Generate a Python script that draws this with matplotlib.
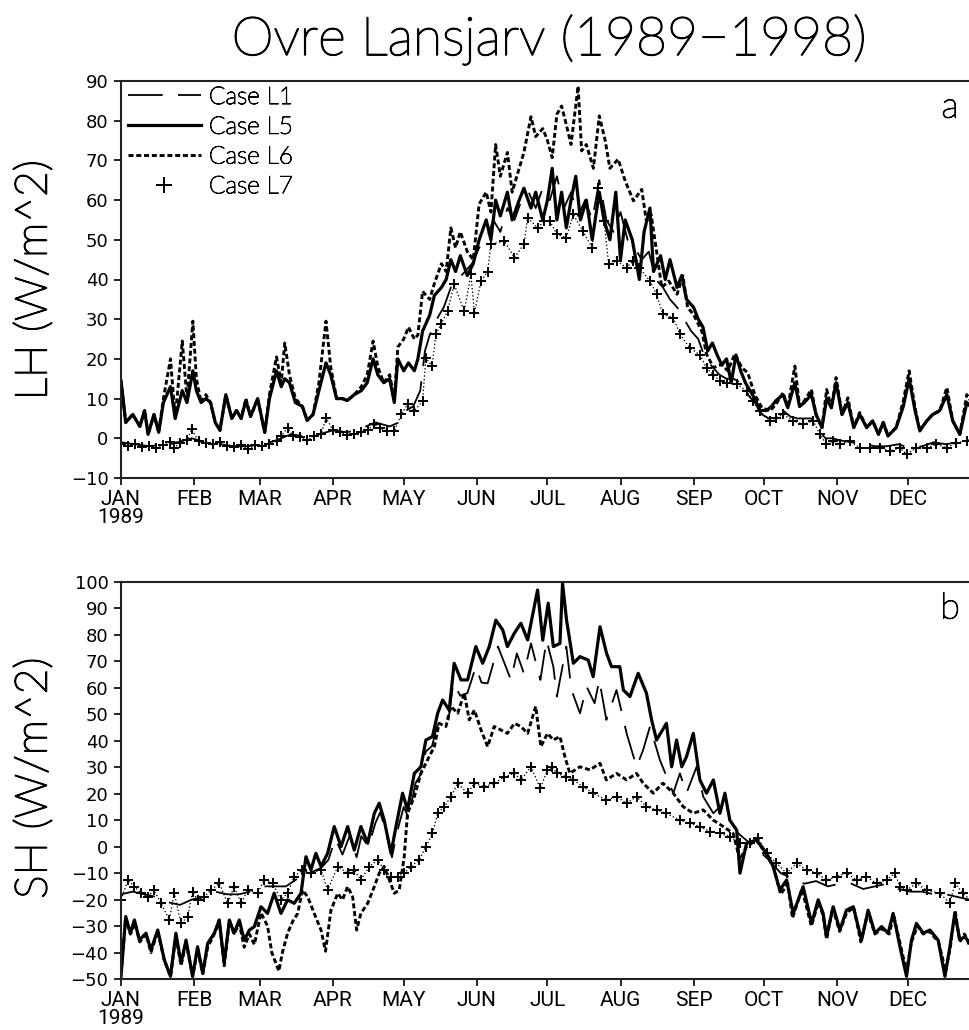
import matplotlib
matplotlib.use("Agg")
import matplotlib.pyplot as plt
import matplotlib.patheffects as pe
from matplotlib.lines import Line2D
import numpy as np

plt.rcParams["lines.scale_dashes"] = False

# ---------------------------------------------------------------------------
# Daily-mean surface fluxes, Ovre Lansjarv, 1989-1998 climatology.
# Each series is a list of (day of year, flux in W/m^2) readings.
# ---------------------------------------------------------------------------
months = ["JAN\n1989", "FEB", "MAR", "APR", "MAY", "JUN",
          "JUL", "AUG", "SEP", "OCT", "NOV", "DEC"]
month_start = [0, 31, 59, 90, 120, 151, 181, 212, 243, 273, 304, 334]
case_names = ["Case L1", "Case L5", "Case L6", "Case L7"]

# ---- latent heat (panel a) ----
lh_l1 = [(0, -1), (6, -1.5), (12, -2), (18, -1.5), (24, -1), (30, 0), (36, -1),
         (42, -1.5), (48, -2), (54, -2), (60, -1.5), (66, -0.5), (72, 1), (78, 0.5),
         (84, 1), (90, 2), (96, 1.5), (102, 2.5), (108, 4), (114, 3), (118, 4),
         (121, 7), (124, 8), (127, 12), (129, 22), (131, 26), (134, 30), (137, 33),
         (140, 38), (143, 40), (146, 42), (149, 44), (152, 48), (155, 50), (158, 55),
         (161, 52), (164, 58), (167, 55), (170, 60), (173, 62), (176, 58), (179, 63),
         (182, 60), (185, 66), (188, 58), (191, 62), (194, 56), (197, 60), (200, 55),
         (203, 65), (206, 55), (209, 52), (212, 57), (215, 50), (218, 48), (221, 45),
         (224, 47), (227, 40), (230, 38), (233, 35), (236, 33), (239, 30), (242, 27),
         (245, 25), (248, 20), (251, 18), (254, 16), (257, 15), (260, 15), (263, 14),
         (266, 11), (269, 9), (272, 6), (275, 5), (278, 6), (281, 7), (284, 5.5),
         (287, 5), (290, 5), (293, 5), (296, 2), (299, 0), (302, 0), (305, -0.5),
         (310, -1), (315, -1.5), (320, -2), (325, -2), (330, -1.5), (335, -2.5),
         (340, -2), (345, -1), (350, -1.5), (355, -1), (360, -0.5), (365, -0.5)]

lh_l5 = [(0, 14.5), (2, 4), (5, 6), (8, 3), (10, 7), (11.5, 1), (14, 6), (16, 1.5),
         (18, 9), (21, 13), (23, 5), (26, 12), (28, 9), (30.5, 17), (32, 12), (34, 9),
         (36, 10), (38, 9), (40, 4), (42, 2), (44.5, 11), (47, 5), (49, 7), (51, 5),
         (53, 9.5), (55, 5.5), (58, 10), (61, 1.5), (63, 10), (66, 17), (68, 13),
         (69.5, 15), (71.5, 14), (74, 9), (77, 8), (79, 4.5), (81.5, 6), (84, 12),
         (87, 19), (89, 16), (91.5, 10), (94, 10), (96, 9.5), (99, 11), (102, 12),
         (104.5, 14), (107, 20), (109, 16), (111.5, 14), (114, 15), (116, 9),
         (117.5, 20), (120, 17), (122, 19), (124.5, 17), (126, 20), (128, 27),
         (131, 31), (133, 36), (136, 38), (138, 40), (140, 45), (142, 42), (144, 46),
         (147, 41), (149.5, 44), (152, 50), (155, 55), (157, 50), (159, 60), (161, 56),
         (164, 62), (166, 55), (169, 60), (171, 63), (174, 58), (176, 62), (179, 55),
         (181, 60), (183, 68), (185, 55), (187, 62), (189, 53), (191, 60), (193, 66),
         (195, 55), (197.5, 60), (200, 50), (203, 62), (205, 55), (207.5, 50),
         (210, 62), (212, 45), (214, 55), (217, 50), (220, 40), (222, 52), (224.5, 58),
         (226, 42), (229, 46), (231, 40), (233, 45), (236, 38), (238, 41), (240, 35),
         (243, 33), (245, 30), (247, 28), (249, 22), (251, 24), (253, 21), (255, 18.5),
         (257, 20), (259, 14), (261, 21), (263, 17), (265, 14), (267, 12), (269, 10),
         (271, 7), (274, 7), (276, 8), (278, 9.5), (281, 11), (283, 7.7), (286, 14),
         (288, 8), (290, 9), (293, 11), (295, 6), (297.5, 2.7), (299.5, 10),
         (301.5, 7.7), (303.5, 14), (306, 6), (308.5, 9), (311, 2.7), (313.5, 6),
         (316.5, 2.7), (319, 4.4), (321.5, 1), (323.5, 4), (325.5, 0.6), (329, 2.7),
         (332, 8), (334.5, 15), (337, 7), (339, 2), (342, 4.4), (344.5, 6), (347.5, 7),
         (350.5, 11), (353, 4.4), (356, 1), (359, 9), (365, 5)]

lh_l6 = [(0, 14.5), (2, 4), (5, 6), (8, 3), (10, 7), (11.5, 1), (14, 6), (16, 1.5),
         (18, 10), (21, 20), (23, 5), (26, 24.5), (28, 10), (30.5, 29.5), (32, 15),
         (34, 9), (36, 11), (38, 9), (40, 4), (42, 2), (44.5, 11), (47, 5), (49, 7),
         (51, 5), (53, 10), (55, 5.5), (58, 10), (61, 1.5), (63, 11), (66, 20.5),
         (68, 14), (69.5, 24), (71.5, 16), (74, 10), (77, 8), (79, 4.5), (81.5, 6),
         (84, 14), (87, 29.5), (89, 18), (91.5, 10), (94, 10), (96, 9.5), (99, 11),
         (102, 13), (104.5, 16), (107, 24.5), (109, 18), (111.5, 14), (114, 16),
         (116, 10), (117.5, 23), (120, 25), (122, 28), (124.5, 25), (126, 26),
         (128, 37), (131, 35), (133, 39), (136, 44), (138, 42), (140, 53), (142, 48),
         (144, 52), (147, 47), (149.5, 45), (152, 59), (155, 62), (157, 57), (159, 74),
         (161, 66), (164, 72), (166, 62), (169, 68), (171, 72), (174, 81), (176, 76),
         (179, 78), (181, 75), (183, 70.7), (185, 81.6), (187, 83.7), (189, 79),
         (191, 74), (194, 88.7), (195.5, 72.4), (197.5, 74), (200.5, 68), (203, 81.2),
         (205.5, 75), (207.5, 68), (211, 70.3), (214, 64.8), (217.5, 59.8), (221, 62.7),
         (223, 54.7), (225, 56.4), (227.5, 46.3), (229.5, 38), (232.5, 39.6),
         (236, 36.3), (238.5, 40.9), (240.5, 32.9), (243, 31.2), (246.5, 27),
         (248.5, 21.2), (251.5, 17.8), (255, 18.6), (257.5, 17), (260.5, 21.2),
         (263.5, 17.8), (266, 16.5), (269, 11), (272, 7.7), (275.5, 6.9), (278, 8.6),
         (281, 11.5), (283, 7.7), (286, 18.2), (288, 8.1), (290, 9.4), (293, 12.3),
         (295, 6), (297.5, 2.7), (299.5, 12.3), (301.5, 7.7), (303.5, 15.3), (306, 6),
         (308.5, 10.2), (311, 2.7), (313.5, 6.5), (316.5, 2.7), (319, 4.4),
         (321.5, 1), (323.5, 4), (325.5, 0.6), (329, 2.7), (332, 9.4), (334.5, 17),
         (337, 7.7), (339, 1.8), (342, 4.4), (344.5, 6), (347.5, 6.9), (350.5, 12.8),
         (353, 4.4), (356, 1), (359, 11), (365, 5)]

lh_l7 = [(0, -1.5), (3, -2), (6, -1.5), (9, -2.2), (12, -2), (15, -2.5), (18, -1.8),
         (21, -1), (22.6, -2.4), (25, -1.2), (28, -0.5), (30, 2.3), (33, -0.8),
         (36, -1.2), (39, -1.5), (42, -1), (45, -2), (48, -2.3), (51, -1.8),
         (54, -2.6), (57, -1.8), (60, -2), (63, -1.5), (66, -0.8), (68, 0.5),
         (70.7, 2.7), (73, 0.5), (76, 0.3), (79, -0.5), (82, 0.5), (85, 1.2), (87, 5.2),
         (90, 2), (93, 1.5), (96, 0.8), (99, 1), (102, 1.5), (105, 2.2), (107.5, 3.5),
         (110, 2.5), (113, 1.8), (116, 1.8), (119, 6), (121.6, 8.6), (124.5, 6.9),
         (128, 9.4), (129.4, 20.3), (132, 18.2), (133.7, 26.2), (135.8, 28.7),
         (138.6, 32), (141.4, 38.8), (145.7, 32), (148.5, 41.3), (150, 31.6),
         (152.8, 39.6), (155.6, 42), (157, 48.9), (162.7, 49.7), (167, 45.5),
         (171, 48.9), (172.6, 55.6), (176.8, 53), (179.6, 54.7), (182, 54.7),
         (185, 51.4), (189, 50.5), (192, 56.4), (196, 52.2), (200, 48), (202.6, 63.1),
         (205, 54.7), (207, 43.8), (210.3, 44.7), (214.6, 43), (217.4, 44.7),
         (220, 43), (224.5, 39.6), (227.3, 36.3), (230, 31.2), (234.4, 30.4),
         (237.2, 26.2), (241.4, 22.8), (245.7, 21), (248.5, 17.8), (251.4, 16),
         (254.2, 14.4), (257, 14), (261.3, 13.6), (265.5, 11.9), (268.3, 9.4),
         (271, 6.9), (275.4, 4.4), (278.2, 5.2), (281, 6), (285.3, 4.4), (289.5, 3.5),
         (293.8, 4.4), (296.6, 1), (299.4, -1.5), (302.3, -0.7), (305, -1.5),
         (309.3, -0.7), (313.6, -2.4), (318, -2.4), (322, -2.4), (326.3, -3.2),
         (330.6, -2.4), (333.4, -4), (337.6, -2.4), (342, -2.4), (346, -1.5),
         (350.4, -2.4), (354.6, -1.1), (359, -0.7)]

# ---- sensible heat (panel b) ----
sh_l1 = [(0, -18), (5, -17), (10, -18), (15, -19), (20, -21), (25, -22), (30, -20),
         (35, -19), (40, -17), (45, -18), (50, -18), (55, -17), (60, -15), (65, -15),
         (70, -15), (75, -12), (80, -10), (85, -8), (88, -5), (91, 3), (94, -3),
         (97, 4), (100, -4), (102, 4), (105, 0), (108, 9), (110, 13), (112, 7),
         (115, -4), (117, 5), (120, 15), (122, 11), (125, 24), (127, 27), (129.4, 36),
         (132, 38), (134, 45), (137, 50), (139, 48), (141, 62), (144, 57), (147, 58),
         (150.6, 68), (153, 62), (155.6, 61.7), (160, 75.6), (165.5, 63), (168, 73),
         (171, 65.5), (174, 76.8), (178, 63), (180.6, 78), (183.5, 68), (185, 56.7),
         (186.3, 63), (189, 75.6), (191.2, 59.2), (194.8, 50.4), (197.6, 60.5),
         (201, 54.2), (203, 63), (206, 47.9), (210.3, 59.2), (214.6, 42.8),
         (218.8, 30.2), (221.6, 36.5), (224.5, 45.4), (228.7, 32.8), (234.4, 20.2),
         (237.2, 27.7), (240, 20.2), (244.3, 30.2), (247.1, 18.9), (251.4, 12.6),
         (254.2, 15.1), (258.4, 10), (262, 5), (266, 2), (270, -1), (275, -5),
         (280, -10), (285, -12), (290, -14), (295, -13), (300, -15), (305, -14),
         (310, -14), (315, -16), (320, -15), (325, -14), (330, -16), (335, -17),
         (340, -17), (345, -18), (350, -18), (355, -19), (360, -20), (365, -20)]

sh_l5 = [(0, -49), (2, -26.4), (4, -32.7), (5.7, -27.7), (7.8, -35.3), (10.6, -32.7),
         (12.7, -39), (15.6, -31.5), (18.4, -42.8), (21, -49), (23.3, -32.7),
         (25.5, -44), (27.6, -35.3), (30.4, -49), (32.5, -37.8), (34.7, -47.8),
         (36.8, -36.5), (39.6, -32.7), (41.7, -27.7), (43.8, -44), (46, -27.7),
         (48, -32.7), (50.2, -27.7), (52.3, -35.3), (54.5, -31.5), (56.6, -30.2),
         (59.4, -22.7), (62.2, -25.2), (65, -17.6), (67.9, -25.2), (70.7, -20.1),
         (73.5, -21.4), (76.4, -17.6), (78.5, -3.8), (80.6, -8.8), (82.7, -2.5),
         (84.9, -7.5), (87.7, -2.5), (90.5, 7.6), (93.4, 0), (96.2, 7.6), (99, -1.3),
         (101.8, 7.6), (104.7, 1.3), (107.5, 12.6), (109.6, 16.4), (111.7, 10),
         (114.6, -2.5), (116.7, 7.6), (119.5, 20.2), (121.6, 13.9), (124.5, 27.7),
         (127.3, 30.2), (129.4, 40.3), (132.2, 41.6), (134.4, 50.4), (136.5, 55.4),
         (139.3, 51.6), (141.4, 69.3), (144.3, 63), (147.1, 63), (150.6, 75.6),
         (153.5, 69.3), (156.3, 75.6), (159.1, 85.6), (162, 81.9), (164, 75.6),
         (166.9, 80.6), (169.7, 84.4), (172.6, 78.1), (176.8, 97), (179, 78),
         (181.3, 92), (183.5, 75.6), (186.3, 76.8), (187.4, 99.5), (189.1, 85.6),
         (192, 69.3), (194.8, 71.8), (198.3, 70.5), (200.4, 64.2), (203.3, 83.1),
         (206.1, 73), (208.2, 68), (211.7, 68), (213.2, 59.2), (216, 56.7),
         (219.5, 65.5), (223, 58), (225.2, 47.9), (227.3, 40.3), (231.5, 46.6),
         (233.7, 30.2), (235.8, 40.3), (238, 30.2), (240, 34), (242.9, 42.8),
         (245.7, 25.2), (248.5, 20.2), (251.4, 25.2), (254.2, 12.6), (256.3, 20.2),
         (258.4, 10), (261.3, 6.3), (262.7, -10), (265.5, 1.3), (269.7, 2.5),
         (274, -2.5), (276.8, -7.5), (279.6, -16.4), (282.5, -12.6), (285.3, -25.2),
         (289.5, -15.1), (293.1, -29), (295.9, -20.1), (298, -25.2), (299.4, -34),
         (302.3, -22.7), (305.1, -31.5), (307.9, -24), (310.8, -22.7), (314.3, -35.3),
         (317.1, -24), (320, -32.7), (322.8, -30.2), (325.6, -32.7), (327.7, -25.2),
         (330.6, -37.8), (333.4, -49), (335.5, -35.3), (337.6, -29), (340.5, -32.7),
         (343.3, -31.5), (346.8, -35.3), (349.7, -49), (351.8, -37.8), (353.9, -25.2),
         (356, -35.3), (358.1, -34), (360.3, -36.5), (365, -38)]

sh_l6 = [(0, -48), (2, -27), (4, -33), (6, -29), (8, -36), (10.6, -33), (12.7, -40),
         (15.6, -32), (18.4, -43), (21, -49), (23.3, -34), (25.5, -45), (27.6, -36),
         (30.4, -49), (32.5, -39), (34.7, -48), (36.8, -38), (39.6, -33), (41.7, -28),
         (43.8, -45), (46, -28), (48, -33), (50.2, -29), (52.3, -38), (54.5, -33),
         (56.6, -37), (59.4, -25), (62.2, -30), (64, -40), (67, -47), (68.5, -40),
         (70.7, -32.7), (73, -28), (75, -25.2), (77, -16.4), (79.2, -18.9), (82, -25.2),
         (84.9, -31.5), (86.8, -39.5), (89.1, -24), (92, -17.6), (94, -20.1),
         (96.2, -15.1), (98.3, -18.9), (100, -31.5), (101.8, -25.2), (104.7, -21.4),
         (107.5, -15.1), (109.6, -10), (111.7, -7.5), (113.9, -12.6), (116, -17.6),
         (118.1, -16.4), (120.2, -3.8), (121.6, 12.6), (124.5, 18.9), (127.3, 27.7),
         (130.1, 32.8), (133, 37.8), (135, 46.6), (137.9, 45.4), (140, 53),
         (142.9, 50.4), (145.7, 58), (147.8, 47.9), (150, 51.6), (152.8, 44.1),
         (155.6, 37.8), (158.4, 45.4), (161.2, 44.1), (164, 42.8), (167, 46.6),
         (169.7, 45.4), (172.6, 42.8), (176, 53), (178.2, 37.8), (181, 42.8),
         (183.5, 40.3), (186.3, 41.6), (188.4, 34), (190.5, 27.7), (194.8, 30.2),
         (199, 29), (203.3, 31.5), (206, 25.2), (210.3, 27.7), (214.6, 25.2),
         (218.8, 27.7), (221.6, 24), (225.9, 20.2), (230, 24), (234.4, 20.2),
         (238.6, 15.1), (242.9, 12.6), (247.1, 13.9), (251.4, 10), (255.6, 7.6),
         (259.8, 5), (262.7, -5), (265.5, 0), (269.7, 2.5), (274, -3), (277, -8),
         (280, -18), (283, -14), (285, -27), (289, -16), (293, -30), (296, -21),
         (298, -26), (299.5, -35), (302, -23), (305, -32), (308, -25), (311, -23),
         (314, -36), (317, -25), (320, -33), (323, -31), (326, -33), (328, -26),
         (331, -38), (333.4, -47), (335.5, -36), (338, -30), (340.5, -33), (343, -32),
         (347, -36), (350, -47), (352, -38), (354, -24), (356, -36), (358, -33),
         (360, -37), (365, -38)]

sh_l7 = [(0, -20), (3, -12.6), (5.7, -15.1), (8.5, -17.6), (11.3, -18.9), (14, -16.4),
         (17, -21.4), (20.5, -27.7), (22.6, -17.6), (25.5, -29), (28.3, -26.4),
         (30.4, -17), (32.5, -20.1), (35.4, -18.9), (38.2, -16.4), (41.7, -13.9),
         (45.3, -21.4), (48, -15.1), (51, -21.4), (53.7, -16.4), (58, -17.6),
         (60.8, -12.6), (64.4, -13.9), (67.9, -20.1), (70.7, -17.6), (73.5, -11.3),
         (77, -8.8), (80.6, -10), (84.9, -8.8), (87.7, -16.4), (92, -7.5), (96.2, -10),
         (99, -8.8), (101.8, -12.6), (105.4, -7.5), (109, -5), (111.7, -8.8),
         (114.6, -11.3), (117.4, -11.3), (120.2, -10), (123, -7.5), (126.6, -5),
         (129.4, 0), (132.2, 5), (134.4, 12.6), (137.2, 15.1), (140, 18.9),
         (142.9, 23.9), (147.1, 20.2), (150, 23.9), (154, 22.7), (158.4, 23.9),
         (162.7, 26.4), (167, 27.7), (169.7, 25.2), (174, 30.2), (178, 22), (181, 29),
         (183, 30.2), (185, 27.7), (189, 26.4), (192, 25.2), (196, 22.7),
         (200.4, 20.2), (206, 17.6), (210.3, 18.9), (214.6, 16.4), (218.8, 18.9),
         (223, 15.1), (227.3, 13.9), (231.5, 12.6), (237.2, 10), (241.4, 8.8),
         (245.7, 7.6), (250, 5.7), (254.2, 5), (258.4, 3.8), (262.7, 1.3), (267, 1.3),
         (270.5, 3.2), (274, -2.5), (278.2, -6.3), (282.5, -10), (286.7, -6.3),
         (291, -8.8), (295.2, -10), (299.4, -12.6), (303.7, -11.3), (308, -10),
         (312.2, -12.6), (316.4, -11.3), (320.7, -13.9), (325, -12.6), (328.4, -10),
         (330.6, -15.1), (333.4, -16.4), (337.6, -13.9), (341.9, -16.4),
         (347.5, -17.6), (351.8, -21.4), (353.9, -13.9), (357.4, -17.6),
         (360.3, -20.1)]

# ---------------------------------------------------------------------------
TEXT_FONT = ["Lato", "DejaVu Sans"]
TICK_FONT = ["DejaVu Sans"]
MONTH_FONT = ["Roboto", "DejaVu Sans"]


def thin_stroke(width):
    """Light face with a slim outline so the strokes read as plain black lines."""
    return [pe.withStroke(linewidth=width, foreground="black")]


styles = {
    "Case L1": dict(color="black", lw=1.3, ls=(0, (25, 11))),
    "Case L5": dict(color="black", lw=2.3, ls="-"),
    "Case L6": dict(color="black", lw=2.1, ls=(0, (3.6, 2.0))),
    "Case L7": dict(color="black", lw=0, ls="none", marker="+", ms=7.5, mew=1.4),
}


def draw_series(ax, series):
    for name, data in zip(case_names, series):
        arr = np.array(data, dtype=float)
        if name == "Case L7":
            # fine stipple joining the daily crosses
            ax.plot(arr[:, 0], arr[:, 1], color="black", lw=0.9,
                    ls=(0, (1.0, 1.6)), zorder=1.5)
        ax.plot(arr[:, 0], arr[:, 1], label=name, **styles[name])


def style_axes(ax, ylim, yticks):
    ax.set_xlim(0, 365)
    ax.set_ylim(*ylim)
    ax.set_yticks(yticks)
    ax.set_xticks(month_start)
    ax.set_xticklabels(months, fontfamily=MONTH_FONT, fontsize=15, linespacing=0.9)
    for lab in ax.get_yticklabels():
        lab.set_fontfamily(TICK_FONT)
        lab.set_fontsize(13)
    ax.tick_params(axis="both", direction="out", length=5, width=1.2, color="black")
    ax.tick_params(axis="y", pad=4)
    ax.tick_params(axis="x", pad=4)
    for sp in ax.spines.values():
        sp.set_linewidth(1.5)
        sp.set_color("#222222")


fig = plt.figure(figsize=(9.70, 10.30), dpi=100)

# axes extend slightly past the right edge of the figure (day 365 lies beyond it)
ax_a = fig.add_axes([121 / 970, 1 - 478 / 1030, 860 / 970, 397 / 1030])
ax_b = fig.add_axes([121 / 970, 1 - 979 / 1030, 860 / 970, 397 / 1030])

draw_series(ax_a, [lh_l1, lh_l5, lh_l6, lh_l7])
draw_series(ax_b, [sh_l1, sh_l5, sh_l6, sh_l7])

style_axes(ax_a, (-10, 90), np.arange(-10, 91, 10))
style_axes(ax_b, (-50, 100), np.arange(-50, 101, 10))

# legend in panel a
handles = [Line2D([], [], **styles[n]) for n in case_names]
leg = ax_a.legend(handles, case_names, loc="upper left",
                  bbox_to_anchor=(7 / 860, 0.985), frameon=False,
                  prop={"family": TEXT_FONT, "size": 17.5, "weight": "light"},
                  handlelength=3.0, handletextpad=0.33, labelspacing=0.36,
                  borderpad=0, borderaxespad=0, markerscale=1.45)
for t in leg.get_texts():
    t.set_path_effects(thin_stroke(0.7))

for ax, letter in ((ax_a, "a"), (ax_b, "b")):
    ax.text(0.964, 0.908, letter, transform=ax.transAxes, ha="center",
            va="baseline", fontsize=26, fontfamily=TEXT_FONT, fontweight="light",
            path_effects=thin_stroke(0.8))

fig.text(549 / 970, 1 - 55 / 1030, "Ovre Lansjarv (1989\u22121998)", ha="center",
         va="baseline", fontsize=38.5, fontfamily=TEXT_FONT, fontweight="light",
         path_effects=thin_stroke(1.1))
fig.text(35 / 970, 1 - 280 / 1030, "LH (W/m^2)", rotation=90, ha="center",
         va="center", fontsize=32, fontfamily=TEXT_FONT, fontweight="light",
         path_effects=thin_stroke(1.1))
fig.text(35 / 970, 1 - 778 / 1030, "SH (W/m^2)", rotation=90, ha="center",
         va="center", fontsize=32, fontfamily=TEXT_FONT, fontweight="light",
         path_effects=thin_stroke(1.1))

fig.savefig("out.png", dpi=100)
